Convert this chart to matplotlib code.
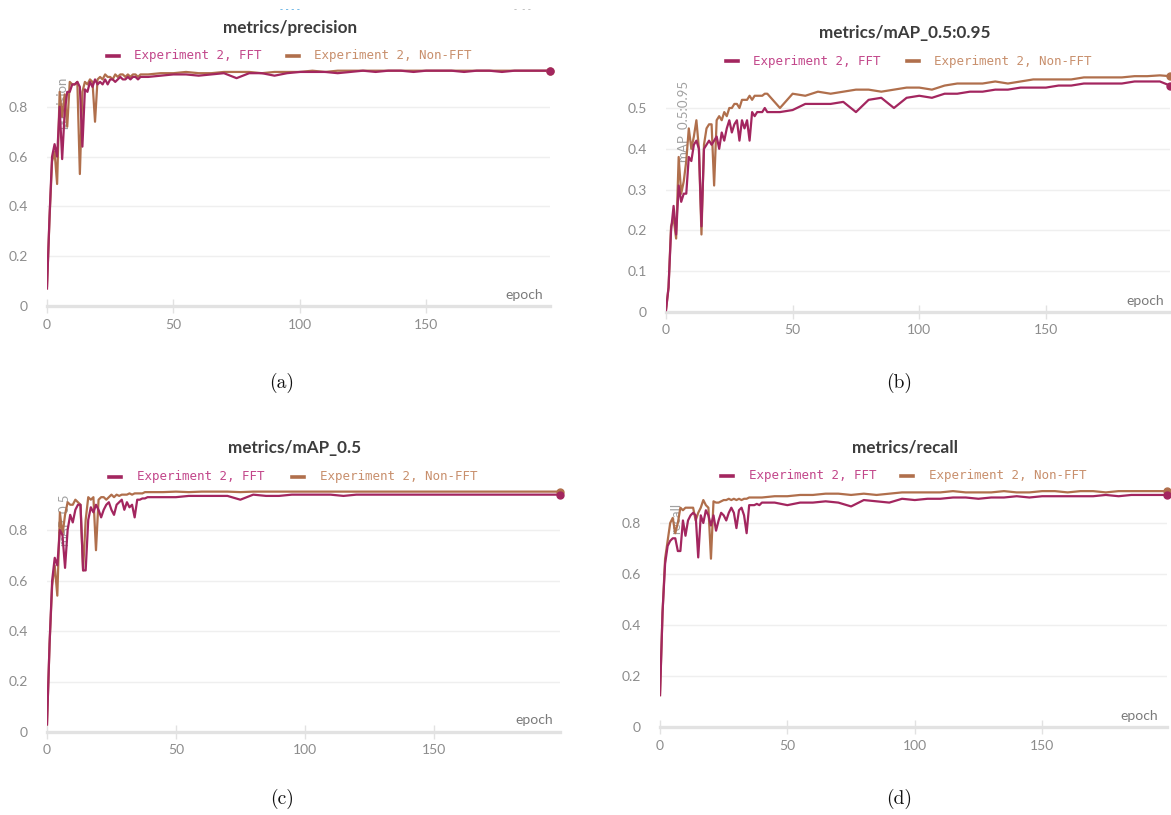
import matplotlib as mpl
mpl.use('Agg')
import matplotlib.pyplot as plt
from matplotlib.lines import Line2D
from matplotlib.ticker import FuncFormatter

W, H = 1171, 815

epochs = list(range(0, 41)) + list(range(45, 196, 5)) + [199]

prec_fft = [0.07, 0.36, 0.60, 0.65, 0.60, 0.80, 0.59, 0.78, 0.86, 0.86,
            0.89, 0.89, 0.90, 0.88, 0.64, 0.87, 0.86, 0.90, 0.88, 0.91,
            0.89, 0.90, 0.89, 0.91, 0.89, 0.91, 0.91, 0.90, 0.91, 0.92,
            0.91, 0.91, 0.92, 0.91, 0.92, 0.92, 0.91, 0.92, 0.92, 0.92,
            0.92,
            0.925, 0.93, 0.93, 0.925, 0.93, 0.935, 0.915, 0.935, 0.935, 0.925,
            0.935, 0.94, 0.94, 0.94, 0.935, 0.94, 0.945, 0.94, 0.945, 0.945,
            0.94, 0.945, 0.945, 0.945, 0.94, 0.945, 0.945, 0.94, 0.945, 0.945,
            0.945, 0.945]
prec_nonfft = [0.08, 0.35, 0.58, 0.62, 0.49, 0.86, 0.76, 0.85, 0.72, 0.90,
               0.89, 0.89, 0.90, 0.53, 0.86, 0.90, 0.89, 0.91, 0.90, 0.74,
               0.91, 0.92, 0.91, 0.93, 0.92, 0.92, 0.91, 0.93, 0.92, 0.93,
               0.93, 0.92, 0.93, 0.92, 0.93, 0.93, 0.92, 0.93, 0.93, 0.93,
               0.93,
               0.935, 0.935, 0.94, 0.935, 0.935, 0.94, 0.94, 0.94, 0.935, 0.94,
               0.94, 0.94, 0.945, 0.94, 0.945, 0.945, 0.945, 0.945, 0.945, 0.945,
               0.945, 0.945, 0.945, 0.945, 0.945, 0.945, 0.945, 0.945, 0.945, 0.945,
               0.945, 0.945]

map95_fft = [0.005, 0.06, 0.20, 0.26, 0.19, 0.31, 0.27, 0.29, 0.29, 0.38,
             0.37, 0.41, 0.42, 0.40, 0.21, 0.40, 0.41, 0.42, 0.41, 0.42,
             0.43, 0.40, 0.44, 0.42, 0.45, 0.47, 0.44, 0.46, 0.47, 0.42,
             0.47, 0.45, 0.47, 0.42, 0.49, 0.48, 0.49, 0.49, 0.49, 0.50,
             0.49,
             0.49, 0.495, 0.51, 0.51, 0.51, 0.515, 0.49, 0.52, 0.525, 0.50,
             0.525, 0.53, 0.525, 0.535, 0.535, 0.54, 0.54, 0.545, 0.545, 0.55,
             0.55, 0.55, 0.555, 0.555, 0.56, 0.56, 0.56, 0.56, 0.565, 0.565,
             0.565, 0.555]
map95_nonfft = [0.005, 0.06, 0.21, 0.23, 0.18, 0.38, 0.29, 0.32, 0.37, 0.45,
                0.40, 0.43, 0.47, 0.40, 0.19, 0.41, 0.45, 0.46, 0.46, 0.31,
                0.47, 0.48, 0.47, 0.49, 0.48, 0.50, 0.50, 0.51, 0.51, 0.50,
                0.52, 0.52, 0.52, 0.53, 0.52, 0.53, 0.53, 0.53, 0.53, 0.535,
                0.535,
                0.50, 0.535, 0.53, 0.54, 0.535, 0.54, 0.545, 0.545, 0.54, 0.545,
                0.55, 0.55, 0.545, 0.555, 0.56, 0.56, 0.56, 0.565, 0.56, 0.565,
                0.57, 0.57, 0.57, 0.57, 0.575, 0.575, 0.575, 0.575, 0.578, 0.578,
                0.58, 0.578]

map50_fft = [0.03, 0.35, 0.60, 0.69, 0.66, 0.80, 0.78, 0.65, 0.80, 0.86,
             0.83, 0.88, 0.90, 0.90, 0.64, 0.64, 0.84, 0.89, 0.87, 0.90,
             0.88, 0.85, 0.88, 0.90, 0.91, 0.88, 0.86, 0.90, 0.91, 0.92,
             0.88, 0.91, 0.89, 0.90, 0.85, 0.92, 0.92, 0.925, 0.925, 0.93,
             0.93,
             0.93, 0.93, 0.935, 0.935, 0.935, 0.935, 0.92, 0.94, 0.935, 0.935,
             0.94, 0.94, 0.94, 0.94, 0.935, 0.94, 0.94, 0.94, 0.94, 0.94,
             0.94, 0.94, 0.94, 0.94, 0.94, 0.94, 0.94, 0.94, 0.94, 0.94,
             0.94, 0.94]
map50_nonfft = [0.03, 0.35, 0.58, 0.66, 0.54, 0.87, 0.78, 0.86, 0.91, 0.90,
                0.90, 0.92, 0.91, 0.90, 0.64, 0.84, 0.93, 0.92, 0.93, 0.72,
                0.92, 0.93, 0.93, 0.92, 0.93, 0.94, 0.93, 0.94, 0.935, 0.94,
                0.94, 0.94, 0.945, 0.94, 0.945, 0.945, 0.945, 0.945, 0.95, 0.95,
                0.95,
                0.95, 0.952, 0.95, 0.952, 0.952, 0.952, 0.95, 0.952, 0.952, 0.952,
                0.952, 0.952, 0.952, 0.952, 0.952, 0.952, 0.952, 0.952, 0.952, 0.952,
                0.952, 0.952, 0.952, 0.952, 0.952, 0.952, 0.952, 0.952, 0.952, 0.952,
                0.952, 0.952]

recall_fft = [0.125, 0.45, 0.64, 0.71, 0.73, 0.74, 0.74, 0.69, 0.69, 0.81,
              0.75, 0.81, 0.83, 0.84, 0.83, 0.665, 0.83, 0.80, 0.85, 0.83,
              0.79, 0.83, 0.77, 0.81, 0.84, 0.83, 0.81, 0.84, 0.86, 0.84,
              0.78, 0.85, 0.86, 0.83, 0.76, 0.87, 0.87, 0.87, 0.875, 0.87,
              0.88,
              0.88, 0.87, 0.88, 0.88, 0.885, 0.88, 0.865, 0.89, 0.885, 0.88,
              0.895, 0.89, 0.895, 0.895, 0.90, 0.90, 0.895, 0.90, 0.90, 0.905,
              0.90, 0.905, 0.905, 0.905, 0.905, 0.905, 0.91, 0.905, 0.91, 0.91,
              0.91, 0.91]
recall_nonfft = [0.125, 0.45, 0.66, 0.73, 0.80, 0.82, 0.76, 0.80, 0.86, 0.85,
                 0.86, 0.86, 0.86, 0.86, 0.81, 0.84, 0.86, 0.89, 0.87, 0.86,
                 0.66, 0.885, 0.88, 0.88, 0.885, 0.89, 0.89, 0.895, 0.89, 0.895,
                 0.89, 0.895, 0.89, 0.895, 0.895, 0.90, 0.90, 0.90, 0.90, 0.90,
                 0.90,
                 0.905, 0.905, 0.91, 0.91, 0.915, 0.915, 0.91, 0.915, 0.91, 0.915,
                 0.92, 0.92, 0.92, 0.92, 0.925, 0.92, 0.92, 0.92, 0.925, 0.92,
                 0.92, 0.925, 0.925, 0.92, 0.925, 0.925, 0.92, 0.925, 0.925, 0.925,
                 0.925, 0.925]

titles = ['metrics/precision', 'metrics/mAP_0.5:0.95', 'metrics/mAP_0.5', 'metrics/recall']
ylabels = ['precision', 'mAP_0.5:0.95', 'mAP_0.5', 'recall']
captions = ['(a)', '(b)', '(c)', '(d)']
series = [(prec_fft, prec_nonfft), (map95_fft, map95_nonfft),
          (map50_fft, map50_nonfft), (recall_fft, recall_nonfft)]
yticks = [[0, 0.2, 0.4, 0.6, 0.8], [0, 0.1, 0.2, 0.3, 0.4, 0.5],
          [0, 0.2, 0.4, 0.6, 0.8], [0, 0.2, 0.4, 0.6, 0.8]]
ytops = [0.97, 0.59, 0.97, 0.95]
label_fft = 'Experiment 2, FFT'
label_non = 'Experiment 2, Non-FFT'

# layout in pixels: axes x0, x1, y of zero, px per unit; title, legend, ylabel, epoch, caption
layout = [
    dict(x0=47, x1=550, y0=306, ppu=249, title=(290, 28), leg=(107, 134, 287, 314, 56),
         ylab=(62, 103), epoch=(543, 295), cap=(282, 383)),
    dict(x0=666, x1=1170, y0=312, ppu=408, title=(905, 33), leg=(726, 753, 907, 934, 61),
         ylab=(682, 121), epoch=(1164, 301), cap=(899, 383)),
    dict(x0=47, x1=560, y0=732, ppu=252.5, title=(295, 448), leg=(109, 137, 292, 320, 477),
         ylab=(63, 520), epoch=(553, 720), cap=(282, 799)),
    dict(x0=660, x1=1167, y0=727, ppu=255, title=(905, 447), leg=(721, 749, 901, 929, 476),
         ylab=(676, 518), epoch=(1158, 716), cap=(899, 799)),
]

c_fft = '#a3265f'
c_non = '#b06f4c'
t_fft = '#c2468a'
t_non = '#c88f6c'
grey = '#8c8c8c'

fig = plt.figure(figsize=(W / 100, H / 100), dpi=100)

def fx(x):
    return x / W

def fy(y):
    return 1 - y / H

fmt = FuncFormatter(lambda v, p: '0' if v == 0 else '%.1f' % v)

for i in range(4):
    L = layout[i]
    ytop_px = L['y0'] - ytops[i] * L['ppu']
    ax = fig.add_axes([fx(L['x0']), fy(L['y0']), (L['x1'] - L['x0']) / W,
                       (L['y0'] - ytop_px) / H])
    yf, yn = series[i]
    ax.plot(epochs, yn, color=c_non, lw=1.6, zorder=3)
    ax.plot(epochs, yf, color=c_fft, lw=1.6, zorder=4)
    ax.plot(epochs[-1], yn[-1], 'o', color=c_non, ms=5, clip_on=False, zorder=5)
    ax.plot(epochs[-1], yf[-1], 'o', color=c_fft, ms=5, clip_on=False, zorder=6)
    ax.set_xlim(0, 199)
    ax.set_ylim(0, ytops[i])
    ax.set_xticks([0, 50, 100, 150])
    ax.set_yticks(yticks[i])
    ax.yaxis.set_major_formatter(fmt)
    for s in ['top', 'right', 'left']:
        ax.spines[s].set_visible(False)
    ax.spines['bottom'].set_color('#e2e2e2')
    ax.spines['bottom'].set_linewidth(2.4)
    ax.tick_params(axis='x', direction='inout', length=10, width=1, color='#e2e2e2',
                   labelcolor=grey, labelsize=10, pad=4)
    ax.tick_params(axis='y', length=0, labelcolor=grey, labelsize=10, pad=14)
    for lab in ax.get_xticklabels() + ax.get_yticklabels():
        lab.set_family('Lato')
    for t in yticks[i][1:]:
        ax.axhline(t, color='#efefef', lw=1, zorder=1)
    ax.text(fx(L['ylab'][0]), fy(L['ylab'][1]), ylabels[i], transform=fig.transFigure,
            rotation=90, ha='center', va='center', fontsize=9.5, color='#a0a0a0',
            family='Lato', zorder=2)
    ax.text(fx(L['epoch'][0]), fy(L['epoch'][1]), 'epoch', transform=fig.transFigure,
            ha='right', va='center', fontsize=10, color='#7a7a7a', family='Lato')

    fig.text(fx(L['title'][0]), fy(L['title'][1]), titles[i], ha='center', va='center',
             fontsize=12.3, fontweight='bold', color='#3c3c3c', family='Lato')
    m1, t1, m2, t2, ly = L['leg']
    fig.add_artist(Line2D([fx(m1), fx(m1 + 12)], [fy(ly), fy(ly)], color=c_fft, lw=2.6,
                          transform=fig.transFigure))
    fig.add_artist(Line2D([fx(m2), fx(m2 + 12)], [fy(ly), fy(ly)], color=c_non, lw=2.6,
                          transform=fig.transFigure))
    fig.text(fx(t1), fy(ly), label_fft, ha='left', va='center', fontsize=9,
             family='DejaVu Sans Mono', color=t_fft)
    fig.text(fx(t2), fy(ly), label_non, ha='left', va='center', fontsize=9,
             family='DejaVu Sans Mono', color=t_non)
    fig.text(fx(L['cap'][0]), fy(L['cap'][1]), captions[i], ha='center', va='center',
             fontsize=14, family='cmr10', color='#111111')

# cropped bits of the screenshot above panel (a)
fig.text(fx(290), fy(9), '- - - -', ha='center', va='center', fontsize=6, color='#4da6e0')
fig.text(fx(522), fy(10), '-  - -', ha='center', va='center', fontsize=6, color='#b0b0b0')

fig.savefig('out.png', dpi=100, facecolor='white')
